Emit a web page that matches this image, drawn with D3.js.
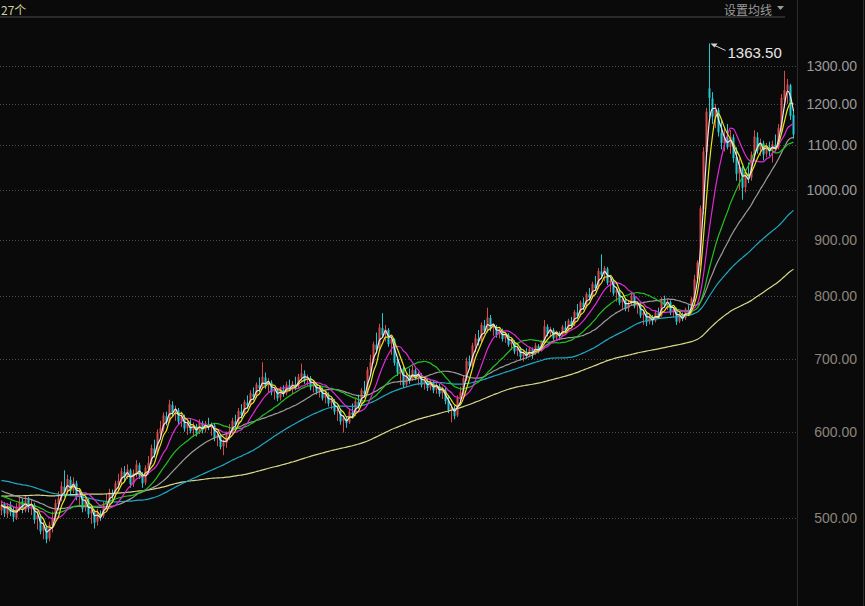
<!DOCTYPE html>
<html><head><meta charset="utf-8">
<script src="https://cdn.jsdelivr.net/npm/d3@7"></script>
<style>body{margin:0;background:#0a0a0a;} svg{display:block}</style>
</head><body>
<svg id="c" width="865" height="606"></svg>
<script>
// closes before the visible window (only feed the moving averages)
const priorCloses = [
500,505,498,492,496,502,510,507,500,495,490,488,494,500,506,512,515,510,503,498,
495,500,508,514,518,512,505,500,497,502,508,511,506,500,496,493,498,504,510,515,
520,516,510,505,500,503,508,512,509,504,500,506,511,515,518,514,509,512,518,524,
530,538,545,552,558,562,556,550,546,552,560,566,570,564,556,550,545,548,555,561,
566,560,552,546,540,545,551,556,550,544,
548,552,545,540,536,542,547,540,534,530,535,540,536,531,528,533,537,531,527,524,
522,526,520,516,519,523,518,514,512,515];

const opens = [
508,515,504,514,507,500,511,518,508,520,
512,514,499,502,487,491,479,492,501,515,
522,534,529,542,530,538,524,525,511,519,
505,507,496,505,502,514,519,527,525,537,
542,551,546,553,538,549,559,547,539,555,
563,579,573,598,604,620,613,635,625,628,
614,619,605,609,602,607,599,611,603,610,
607,608,593,595,582,586,596,600,613,610,
626,623,638,635,650,647,662,659,673,662,
666,653,655,645,656,651,662,659,663,661,
673,678,669,672,660,663,654,656,645,649,
638,640,627,627,614,617,612,625,623,639,
636,654,651,683,696,721,715,747,737,744,
723,729,695,681,685,663,675,671,683,673,
676,663,668,659,665,656,661,651,655,641,
629,631,621,644,651,671,696,689,719,730,
727,751,743,763,747,749,737,743,731,736,
722,725,712,715,704,708,705,714,709,719,
714,724,749,739,744,732,739,735,748,745,
758,753,772,768,788,782,802,798,819,814,
842,837,847,823,825,805,809,789,793,779,
787,799,783,785,768,771,757,765,759,771,
767,793,785,789,773,777,758,768,763,776,
772,794,829,857,961,1084,1240,1214,1166,1184,
1128,1104,1116,1096,1118,1072,1036,1048,1006,1036,
1027,1076,1118,1090,1104,1080,1096,1087,1100,1094,
1138,1212,1236,1248,1172];

const highs = [
519,517,516,518,512,516,524,521,524,523,
520,516,508,504,496,493,496,507,520,529,
540,553,548,546,545,541,532,528,524,521,
511,509,510,508,518,526,532,531,541,549,
556,558,560,555,554,565,562,551,559,570,
584,590,603,614,625,626,642,640,634,631,
626,622,614,616,612,610,616,614,614,618,
612,611,600,597,590,600,610,618,622,631,
636,642,648,655,659,666,673,695,680,672,
669,660,658,660,662,667,670,668,674,678,
693,683,677,675,668,666,661,659,654,652,
645,643,632,630,621,620,630,637,643,649,
658,668,688,706,726,740,754,771,752,747,
736,731,700,690,688,680,686,690,686,681,
679,672,671,670,668,666,664,660,658,648,
636,634,648,660,676,702,705,724,738,744,
756,760,780,768,754,752,748,746,740,739,
730,728,720,718,712,716,718,717,724,722,
728,760,753,749,747,743,742,752,758,762,
765,776,786,792,797,806,813,824,834,848,
873,852,850,830,828,815,812,797,796,792,
806,802,790,788,776,774,770,768,775,780,
797,800,794,792,781,780,772,772,780,784,
798,836,862,968,1095,1190,1363.5,1230,1200,1190,
1160,1140,1150,1135,1125,1095,1070,1052,1045,1060,
1085,1135,1130,1115,1110,1105,1108,1110,1125,1150,
1225,1287,1265,1252,1185];

const lows = [
503,501,500,502,496,498,507,505,506,506,
503,494,488,483,478,474,476,485,497,508,
518,523,526,524,527,519,512,506,507,500,
494,489,492,497,500,509,513,518,522,530,
536,540,543,533,534,545,543,533,536,548,
560,568,571,590,600,608,611,619,614,609,
606,600,596,598,595,594,597,598,599,602,
595,588,582,578,571,580,590,597,604,608,
617,620,630,632,641,644,652,656,657,652,
648,642,640,641,646,648,654,650,655,658,
668,664,661,655,652,649,645,641,637,633,
629,622,614,609,599,605,610,617,620,630,
633,645,649,676,693,708,713,733,726,718,
706,690,675,662,658,660,664,668,669,662,
659,656,654,655,651,650,646,643,636,624,
612,616,619,637,648,668,684,687,710,720,
724,738,740,742,735,732,731,726,724,718,
713,707,704,699,696,700,702,700,706,708,
711,722,734,733,728,727,728,733,740,742,
748,750,762,765,776,779,792,795,808,811,
830,825,818,806,800,790,784,778,774,773,
784,779,770,763,752,750,753,752,756,762,
765,780,776,768,764,752,755,758,760,766,
770,790,822,852,950,1075,1165,1150,1140,1120,
1090,1085,1090,1080,1060,1020,1000,980,995,1015,
1020,1065,1080,1075,1065,1072,1075,1060,1085,1090,
1130,1190,1200,1160,1115];

const closes = [
514,505,513,506,501,512,517,509,519,511,
515,498,503,486,492,478,493,500,516,521,
535,528,543,529,539,523,526,510,520,504,
508,495,506,501,515,518,528,524,538,541,
552,545,554,537,550,560,546,538,556,562,
580,572,599,605,621,612,636,624,629,613,
620,604,610,601,608,598,612,602,611,606,
609,592,596,581,587,597,601,614,609,627,
622,639,634,651,646,663,658,674,661,667,
652,656,644,657,650,663,658,664,660,674,
679,668,673,659,664,653,657,644,650,637,
641,626,628,613,618,611,626,622,640,635,
655,650,684,695,722,714,748,736,745,722,
730,694,680,686,662,676,670,684,672,677,
662,669,658,666,655,662,650,656,640,628,
632,620,645,652,672,697,690,720,731,726,
752,742,764,746,750,736,744,730,737,721,
726,711,716,703,709,704,715,708,720,713,
725,750,738,745,731,740,734,749,744,759,
752,773,767,789,781,803,797,820,813,843,
836,848,822,826,804,810,788,794,778,788,
800,782,786,767,772,756,766,758,772,766,
794,784,790,772,778,757,769,762,777,771,
795,828,858,962,1085,1180,1215,1168,1185,1130,
1105,1118,1095,1120,1070,1035,1050,1005,1038,1025,
1078,1120,1088,1105,1078,1098,1085,1102,1092,1140,
1215,1235,1250,1170,1125];

const maPeriods = [3, 5, 10, 20, 30, 60, 120];
const maColors  = ["#e8e8e8", "#e6e61c", "#e02ad8", "#22c222", "#9c9c9c", "#1fa8c4", "#d8d88a"];
const yTicks = [500, 600, 700, 800, 900, 1000, 1100, 1200, 1300];
const peakLabel = "1363.50";
const headerLeft = "27个";
const headerRight = "设置均线";

const W = 865, H = 606, axisX = 797;
const svg = d3.select("#c");
svg.append("rect").attr("width", W).attr("height", H).attr("fill", "#0a0a0a");

const y = d3.scaleLog().domain([500, 1300]).range([518, 66]);
const N = closes.length;
const x = d3.scaleBand().domain(d3.range(N)).range([0, 795]);
const cx = i => x(i) + x.bandwidth() / 2;

svg.append("clipPath").attr("id", "plot").append("rect")
  .attr("x", 0).attr("y", 18).attr("width", axisX).attr("height", H - 18);

// grid
const grid = svg.append("g");
grid.selectAll("line").data(yTicks).join("line")
  .attr("x1", 0).attr("x2", axisX)
  .attr("y1", d => Math.round(y(d)) + 0.5).attr("y2", d => Math.round(y(d)) + 0.5)
  .attr("stroke", "#4a4a4a").attr("stroke-width", 1).attr("stroke-dasharray", "1,2");

// right axis
const axis = d3.axisRight(y).tickValues(yTicks).tickFormat(d3.format(".2f")).tickSize(0).tickPadding(0);
const ag = svg.append("g").attr("transform", `translate(${axisX},0)`).call(axis);
ag.select(".domain").remove();
ag.selectAll("text").attr("x", 60).attr("text-anchor", "end")
  .attr("fill", (d) => d >= 1000 ? "#9a9a9a" : "#8a857c")
  .style("font-family", "'Liberation Sans', Arial, sans-serif").style("font-size", "14px");

// separators
svg.append("line").attr("x1", axisX + 0.5).attr("x2", axisX + 0.5).attr("y1", 0).attr("y2", H).attr("stroke", "#2c2c2c");
svg.append("line").attr("x1", 863.5).attr("x2", 863.5).attr("y1", 0).attr("y2", H).attr("stroke", "#2c2c2c");
svg.append("line").attr("x1", 0).attr("x2", 785).attr("y1", 17).attr("y2", 17).attr("stroke", "#2a2a2a").attr("stroke-width", 2);

// header
svg.append("text").attr("x", 1).attr("y", 14.5).text(headerLeft)
  .attr("fill", "#cfcf9a").style("font-family", "'Noto Sans CJK SC', sans-serif").style("font-size", "12px");
svg.append("text").attr("x", 724).attr("y", 14.5).text(headerRight)
  .attr("fill", "#9a9a9a").style("font-family", "'Noto Sans CJK SC', sans-serif").style("font-size", "12px");
svg.append("path").attr("d", "M777,6 L784,6 L780.5,10 Z").attr("fill", "#9a9a9a");

const plot = svg.append("g").attr("clip-path", "url(#plot)");

// candles
const idx = d3.range(N);
const up = i => closes[i] >= opens[i];
const red = "#d84a4a", cyan = "#22c8d2";
plot.append("g").selectAll("line").data(idx).join("line")
  .attr("x1", i => Math.floor(cx(i)) + 0.5).attr("x2", i => Math.floor(cx(i)) + 0.5)
  .attr("y1", i => y(highs[i])).attr("y2", i => y(lows[i]))
  .attr("stroke", i => up(i) ? red : cyan).attr("stroke-width", 1);
plot.append("g").selectAll("rect").data(idx).join("rect")
  .attr("x", i => Math.floor(cx(i)) - 0.5)
  .attr("width", 2)
  .attr("y", i => y(Math.max(opens[i], closes[i])))
  .attr("height", i => Math.max(1, Math.abs(y(opens[i]) - y(closes[i]))))
  .attr("fill", i => up(i) ? red : cyan);

// moving averages
const all = priorCloses.concat(closes);
const P = priorCloses.length;
function ma(n) {
  return idx.map(i => {
    const k = P + i;
    return d3.mean(all.slice(Math.max(0, k - n + 1), k + 1));
  });
}
const line = d3.line().x((d, i) => cx(i)).y(d => y(d)).curve(d3.curveMonotoneX);
maPeriods.slice().reverse().forEach((n, j) => {
  const c = maColors[maPeriods.length - 1 - j];
  plot.append("path").datum(ma(n)).attr("d", line)
    .attr("fill", "none").attr("stroke", c).attr("stroke-width", 1.2);
});

// peak annotation
const pk = highs.indexOf(d3.max(highs));
const px = Math.floor(cx(pk)) + 0.5, py = y(highs[pk]);
svg.append("line").attr("x1", px + 16).attr("y1", py + 7).attr("x2", px + 3).attr("y2", py + 1)
  .attr("stroke", "#d0d0d0").attr("stroke-width", 1);
svg.append("path").attr("d", `M${px+1},${py} l7,0 l-3,4 Z`).attr("fill", "#d0d0d0");
svg.append("text").attr("x", px + 18).attr("y", py + 15).text(peakLabel)
  .attr("fill", "#e6e6e6").style("font-family", "'Liberation Sans', Arial, sans-serif").style("font-size", "15px");
</script>
</body></html>
